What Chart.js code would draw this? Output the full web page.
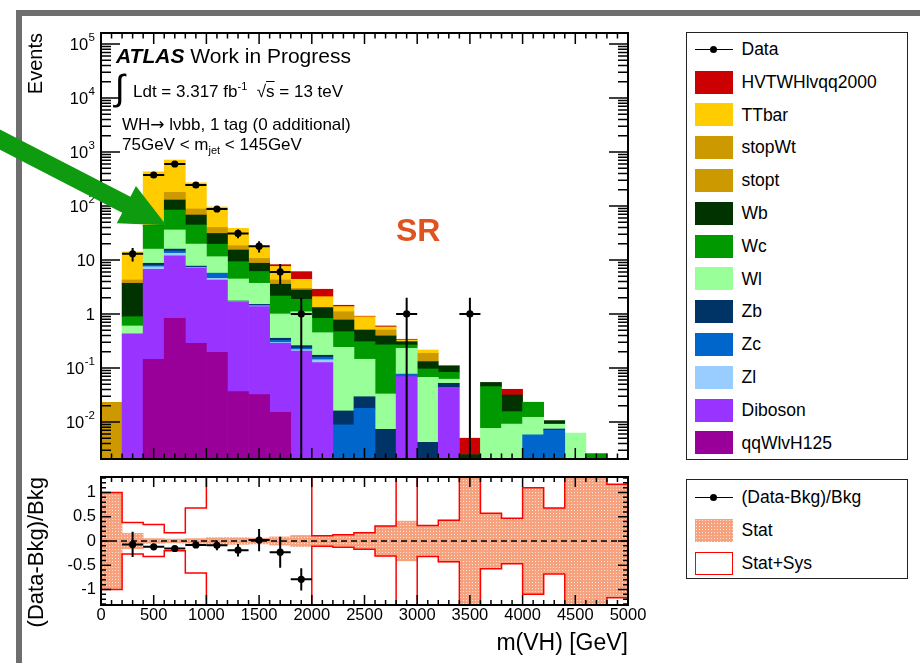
<!DOCTYPE html>
<html>
<head>
<meta charset="utf-8">
<title>m(VH) SR</title>
<script src="https://cdn.jsdelivr.net/npm/chart.js@4.4.1/dist/chart.umd.min.js"></script>
<style>
  body { margin:0; width:920px; height:663px; overflow:hidden; position:relative; background:#fff;
         font-family:"Liberation Sans", Arial, Helvetica, sans-serif; color:#000; }
  #frame { position:absolute; left:16px; top:10px; width:1000px; height:1000px; border:6px solid #6e6e6e; }
  canvas.plot { position:absolute; left:0; }
  #upper { top:0; }
  #lower { top:470px; }
  .txt { position:absolute; white-space:nowrap; line-height:1; }
  .vtitle { position:absolute; white-space:nowrap; line-height:1; width:200px; text-align:right;
            transform:rotate(-90deg); transform-origin:0 0; font-size:20px; }
  .legend { position:absolute; border:1.5px solid #222; box-sizing:border-box; background:#fff; }
  .row { position:relative; height:32.8px; }
  .sw { position:absolute; left:7.5px; top:4.9px; width:38px; height:23px; }
  .lab { position:absolute; left:54.5px; top:0; line-height:32.8px; font-size:17.5px; white-space:nowrap; }
  .mk::before { content:""; position:absolute; left:0; right:0; top:10.7px; height:1.6px; background:#000; }
  .mk::after { content:""; position:absolute; left:15.5px; top:8px; width:7px; height:7px; border-radius:50%; background:#000; }
  sup, sub { font-size:0.65em; line-height:0; }
  .arr { font-family:"DejaVu Sans", sans-serif; }
</style>
</head>
<body>
<div id="frame"></div>
<canvas id="upper" class="plot" width="660" height="470"></canvas>
<canvas id="lower" class="plot" width="660" height="193"></canvas>

<div class="txt" style="left:116px;top:45px;font-size:21px"><b><i>ATLAS</i></b> Work in Progress</div>
<div class="txt" style="left:115px;top:70px;font-size:36px">&#8747;</div>
<div class="txt" style="left:133px;top:83px;font-size:17px">Ldt = 3.317 fb<sup>-1</sup>&nbsp;&nbsp;&radic;<span style="text-decoration:overline">s</span> = 13 teV</div>
<div class="txt" style="left:122px;top:116px;font-size:17px">WH<span class="arr">&rarr;</span> l&nu;bb, 1 tag (0 additional)</div>
<div class="txt" style="left:122px;top:136px;font-size:17px">75GeV &lt; m<sub>jet</sub> &lt; 145GeV</div>
<div class="txt" style="left:396px;top:214px;font-size:32px;font-weight:bold;color:#e2521f">SR</div>

<div class="vtitle" style="left:25px;top:233px">Events</div>
<div class="vtitle" style="left:25px;top:677px;font-size:22px">(Data-Bkg)/Bkg</div>
<div class="txt" style="right:292px;top:631px;font-size:23px">m(VH) [GeV]</div>

<div id="legMain" class="legend" style="left:686px;top:32px;width:222px;height:428px"></div>
<div id="legRatio" class="legend" style="left:686px;top:479px;width:222px;height:100px;padding-top:1.2px"></div>

<script>
// bin centres of m(VH), 200 GeV wide bins
const massBins = [100,300,500,700,900,1100,1300,1500,1700,1900,2100,2300,2500,2700,2900,
                  3100,3300,3500,3700,3900,4100,4300,4500,4700,4900];
const binWidth = 200;
const massTicks = [0,500,1000,1500,2000,2500,3000,3500,4000,4500,5000];

// stacked backgrounds, bottom of the stack first
const qqWlvH125 = [0,0,0.145,0.83,0.286,0.195,0.0365,0.032,0.015,0,0,0,0,0,0,0,0,0,0,0,0,0,0,0,0];
const diboson   = [0,0.43,6.55,11.07,6.71,4.07,1.65,1.338,0.271,0.206,0.126,0,0,0,0.069,0,0.0439,0,0,0,0,0,0,0,0];
const zl        = [0,0,0.8,1.4,0.2,0.3,0.01,0.04,0.01,0.013,0.016,0,0,0,0,0,0,0,0,0,0,0,0,0,0];
const zc        = [0,0,0.4,1.4,0.2,1.14,0.01,0.05,0.029,0.015,0.015,0.0088,0.0179,0,0.008,0,0,0,0,0,0.0058,0.0071,0,0,0];
const zb        = [0,0,0.8,1.2,0.3,0,0.03,0.05,0.03,0.025,0.015,0.0072,0.0114,0.0073,0,0.0042,0.0081,0,0,0,0,0.0003,0,0,0];
const wl        = [0,0.17,7.2,20.1,12.0,5.8,2.71,2.19,0.645,0.841,0.278,0.226,0.1157,0.0257,0.154,0.0628,0.01,0,0.0076,0.0091,0.0064,0.0017,0.0062,0,0];
const wc        = [0,0.29,26.7,48,24.8,8.1,4.85,2.4,1.15,0.77,0.38,0.228,0.162,0.234,0.036,0.029,0.021,0,0.0374,0.0064,0.011,0,0,0.0026,0];
const wb        = [0,2.81,0.5,45,23.5,11.4,6.0,2.6,1.4,0.91,0.48,0.304,0.198,0.125,0.04,0.035,0.027,0.0025,0.009,0.0161,0,0.0015,0,0,0];
const stopt     = [0,0.1,0.2,10,4,2,0.6,0.4,0.15,0.05,0,0.066,0,0.02,0,0,0,0,0,0,0,0,0,0,0];
const stopWt    = [0.023,0.46,0.8,40,16,7,2.5,1.6,0.56,0.15,0.02,0.26,0,0.093,0,0.056,0,0,0,0,0,0,0,0,0];
const ttbar     = [0,9.84,387,531,181,56,20.1,7.1,3.34,1.41,0.76,0.27,0.385,0.07,0.023,0.028,0,0,0,0,0,0,0,0,0];
const hvt2000   = [0,0,0,0,0,0,0,0,0.6,1.69,0.78,0.08,0.02,0.025,0.01,0,0,0.0025,0,0.0087,0,0,0,0,0];

const sampleNames  = ['qqWlvH125','Diboson','Zl','Zc','Zb','Wl','Wc','Wb','stopt','stopWt','TTbar','HVTWHlvqq2000'];
const sampleColors = ['#990099','#9933ff','#99ccff','#0066cc','#003366','#99ff99','#009900','#003300','#cc9900','#cc9900','#ffcc00','#cc0000'];
const sampleValues = [qqWlvH125, diboson, zl, zc, zb, wl, wc, wb, stopt, stopWt, ttbar, hvt2000];

// observed events and their errors
const eventCounts = [0,13,375,600,245,88,31,18,6,1,0,0,0,0,1,0,0,1,0,0,0,0,0,0,0];
const countErr    = [0,3.6,19.4,24.5,15.7,9.4,5.6,4.2,2.4,1,0,0,0,0,1,0,0,1,0,0,0,0,0,0,0];

// (Data-Bkg)/Bkg, null where out of range
const ratioValues = [null,-0.07,-0.12,-0.155,-0.08,-0.09,-0.19,0.02,-0.23,-0.79,null,null,null,null,null,null,null,null,null,null,null,null,null,null,null];
const ratioErr    = [null,0.26,0.05,0.04,0.06,0.10,0.13,0.23,0.32,0.23,null,null,null,null,null,null,null,null,null,null,null,null,null,null,null];

// uncertainty bands on the ratio
const statErr = [1.0,0.16,0.05,0.04,0.05,0.07,0.07,0.06,0.085,0.115,0.11,0.13,0.17,0.31,0.41,0.32,0.43,1.32,0.57,0.47,1.1,0.68,1.32,1.32,1.17];
const sysUp   = [1.0,0.38,0.34,0.17,0.68,1.32,1.32,1.32,1.32,1.32,0.11,0.13,0.17,0.31,1.32,0.32,0.43,1.32,0.57,0.47,1.1,0.68,1.32,1.32,1.17];
const sysDown = [1.0,0.27,0.32,0.20,0.66,1.32,1.32,1.32,1.32,1.32,0.11,0.13,0.17,0.31,1.32,0.32,0.43,1.32,0.57,0.47,1.1,0.68,1.32,1.32,1.17];

// log axis labels written as base + exponent
const yTickValues = [0.01,0.1,1,10,100,1000,10000,100000];
const yTickBase   = ['10','10','1','10','10','10','10','10'];
const yTickExp    = ['-2','-1','','','2','3','4','5'];
const ratioTickValues = [-1,-0.5,0,0.5,1];
const ratioTickLabels = ['-1','-0.5','0','0.5','1'];

const FONT = '"Liberation Sans", Arial, Helvetica, sans-serif';
const logFloor = 1e-6;

function dotFill() {
  const c = document.createElement('canvas');
  c.width = 3; c.height = 3;
  const g = c.getContext('2d');
  g.fillStyle = '#f6a27e';
  g.fillRect(0, 0, 3, 3);
  g.fillStyle = '#fde4d6';
  g.fillRect(1, 1, 1, 1);
  return g.createPattern(c, 'repeat');
}

// ROOT style frame: box plus inward ticks on all four sides
const rootAxes = {
  id: 'rootAxes',
  afterDraw(chart, args, o) {
    const {ctx, chartArea: a, scales: {x, y}} = chart;
    ctx.save();
    ctx.strokeStyle = '#000';
    ctx.lineWidth = 1.5;
    ctx.beginPath();
    for (let i = Math.ceil(x.min / o.xMinor); i * o.xMinor <= x.max; i++) {
      const v = i * o.xMinor;
      const len = v % o.xMajor === 0 ? o.xLen[0] : o.xLen[1];
      const px = x.getPixelForValue(v);
      ctx.moveTo(px, a.bottom); ctx.lineTo(px, a.bottom - len);
      ctx.moveTo(px, a.top); ctx.lineTo(px, a.top + len);
    }
    const marks = [];
    if (y.type === 'logarithmic') {
      for (let e = Math.floor(Math.log10(y.min)); e <= Math.ceil(Math.log10(y.max)); e++) {
        for (let m = 1; m < 10; m++) {
          const v = m * Math.pow(10, e);
          if (v >= y.min && v <= y.max) marks.push([v, m === 1]);
        }
      }
    } else {
      for (let i = Math.ceil(y.min / o.yMinor - 1e-9); i * o.yMinor <= y.max + 1e-9; i++) {
        const v = i * o.yMinor, r = v / o.yMajor;
        marks.push([v, Math.abs(r - Math.round(r)) < 1e-6]);
      }
    }
    marks.forEach(([v, major]) => {
      const py = y.getPixelForValue(v), len = major ? o.yLen[0] : o.yLen[1];
      ctx.moveTo(a.left, py); ctx.lineTo(a.left + len, py);
      ctx.moveTo(a.right, py); ctx.lineTo(a.right - len, py);
    });
    ctx.stroke();
    ctx.lineWidth = 2;
    ctx.strokeRect(a.left, a.top, a.right - a.left, a.bottom - a.top);
    ctx.restore();
  }
};

// 10^n labels for the log axis
const powerLabels = {
  id: 'powerLabels',
  afterDraw(chart) {
    const {ctx, chartArea: a, scales: {y}} = chart;
    if (y.type !== 'logarithmic') return;
    ctx.save();
    ctx.fillStyle = '#000';
    y.ticks.forEach((t, i) => {
      const py = y.getPixelForValue(t.value);
      let right = a.left - 6;
      if (yTickExp[i]) {
        ctx.font = '11.5px ' + FONT;
        ctx.textAlign = 'right';
        ctx.textBaseline = 'alphabetic';
        ctx.fillText(yTickExp[i], right, py - 3);
        right -= ctx.measureText(yTickExp[i]).width + 0.5;
      }
      ctx.font = '16.5px ' + FONT;
      ctx.textAlign = 'right';
      ctx.textBaseline = 'middle';
      ctx.fillText(yTickBase[i], right, py + 1.5);
    });
    ctx.restore();
  }
};

// x error = bin width, y error from the point's err field
const errorBars = {
  id: 'errorBars',
  afterDatasetsDraw(chart) {
    const {ctx, chartArea: a, scales: {x, y}} = chart;
    const isLog = y.type === 'logarithmic';
    ctx.save();
    ctx.beginPath();
    ctx.rect(a.left, a.top, a.right - a.left, a.bottom - a.top);
    ctx.clip();
    ctx.strokeStyle = '#000';
    ctx.lineWidth = 2;
    chart.data.datasets.forEach(ds => {
      if (!ds.errorBars) return;
      ds.data.forEach(p => {
        const px = x.getPixelForValue(p.x), py = y.getPixelForValue(p.y);
        const lo = isLog ? Math.max(p.y - p.err, 0) : p.y - p.err;
        ctx.beginPath();
        ctx.moveTo(x.getPixelForValue(p.x - binWidth / 2), py);
        ctx.lineTo(x.getPixelForValue(p.x + binWidth / 2), py);
        ctx.moveTo(px, y.getPixelForValue(lo));
        ctx.lineTo(px, y.getPixelForValue(p.y + p.err));
        ctx.stroke();
      });
    });
    ctx.restore();
  }
};

// the big green arrow, ends given in axis units
const pointer = {
  id: 'pointer',
  afterDraw(chart, args, o) {
    if (!o.to) return;
    const {ctx, scales: {x, y}} = chart;
    const x0 = x.getPixelForValue(o.from[0]), y0 = y.getPixelForValue(o.from[1]);
    const x1 = x.getPixelForValue(o.to[0]), y1 = y.getPixelForValue(o.to[1]);
    const len = Math.hypot(x1 - x0, y1 - y0);
    ctx.save();
    ctx.translate(x1, y1);
    ctx.rotate(Math.atan2(y1 - y0, x1 - x0));
    ctx.fillStyle = o.color;
    ctx.beginPath();
    ctx.moveTo(0, 0);
    ctx.lineTo(-o.head, o.wing);
    ctx.lineTo(-o.head, o.shaft / 2);
    ctx.lineTo(-len, o.shaft / 2);
    ctx.lineTo(-len, -o.shaft / 2);
    ctx.lineTo(-o.head, -o.shaft / 2);
    ctx.lineTo(-o.head, -o.wing);
    ctx.closePath();
    ctx.fill();
    ctx.restore();
  }
};

// build the stack as floating bars
const running = massBins.map(() => 0);
const stackSets = sampleValues.map((vals, k) => {
  const pts = [];
  vals.forEach((v, i) => {
    if (v > 0) pts.push({x: massBins[i], y: [running[i] > 0 ? running[i] : logFloor, running[i] + v]});
    running[i] += v;
  });
  return {type: 'bar', label: sampleNames[k], data: pts, backgroundColor: sampleColors[k], order: 2};
});

const dataPts = [];
eventCounts.forEach((n, i) => { if (n > 0) dataPts.push({x: massBins[i], y: n, err: countErr[i]}); });

const barDefaults = {grouped: false, barPercentage: 1, categoryPercentage: 1, borderWidth: 0};

new Chart(document.getElementById('upper'), {
  type: 'bar',
  data: {
    datasets: [
      {type: 'line', label: 'Data', data: dataPts, showLine: false, pointRadius: 3.6,
       pointBackgroundColor: '#000', pointBorderWidth: 0, errorBars: true, order: 1},
      ...stackSets
    ]
  },
  options: {
    responsive: false,
    animation: false,
    layout: {padding: {left: 0, right: 32, top: 33, bottom: 11}},
    datasets: {bar: barDefaults},
    plugins: {
      legend: {display: false},
      tooltip: {enabled: false},
      rootAxes: {xMajor: 500, xMinor: 100, xLen: [11, 5.5], yMajor: 10, yMinor: 1, yLen: [19, 10]},
      pointer: {from: [-1150, 2640], to: [620, 44], color: '#0f9b0f', shaft: 18, head: 45, wing: 21}
    },
    scales: {
      x: {type: 'linear', min: 0, max: 5000, offset: false, display: false,
          afterBuildTicks: s => { s.ticks = massTicks.map(v => ({value: v})); }},
      y: {type: 'logarithmic', min: 2.06e-3, max: 1.6e5,
          grid: {display: false, drawTicks: false}, border: {display: false},
          ticks: {display: false},
          afterBuildTicks: s => { s.ticks = yTickValues.map(v => ({value: v})); },
          afterFit: s => { s.width = 101; s.paddingTop = 0; s.paddingBottom = 0; }}
    }
  },
  plugins: [rootAxes, powerLabels, errorBars, pointer]
});

// ratio panel
const edges = massBins.map(c => c - binWidth / 2).concat(massBins[massBins.length - 1] + binWidth / 2);
const stepLine = vals => edges.map((e, i) => ({x: e, y: vals[Math.min(i, vals.length - 1)]}));
const ratioPts = [];
ratioValues.forEach((r, i) => { if (r !== null) ratioPts.push({x: massBins[i], y: r, err: ratioErr[i]}); });
const bandFill = dotFill();

new Chart(document.getElementById('lower'), {
  type: 'bar',
  data: {
    datasets: [
      {type: 'line', label: '(Data-Bkg)/Bkg', data: ratioPts, showLine: false, pointRadius: 3.6,
       pointBackgroundColor: '#000', pointBorderWidth: 0, errorBars: true, order: 1},
      {type: 'line', data: [{x: 0, y: 0}, {x: 5000, y: 0}], borderColor: '#000', borderWidth: 1.5,
       borderDash: [6, 4], pointRadius: 0, order: 2},
      {type: 'line', label: 'Stat+Sys', data: stepLine(sysUp), stepped: 'before', borderColor: '#ff0000',
       borderWidth: 1.5, pointRadius: 0, fill: false, order: 3},
      {type: 'line', data: stepLine(sysDown.map(v => -v)), stepped: 'before', borderColor: '#ff0000',
       borderWidth: 1.5, pointRadius: 0, fill: false, order: 3},
      {type: 'bar', label: 'Stat', data: massBins.map((c, i) => ({x: c, y: [-statErr[i], statErr[i]]})),
       backgroundColor: bandFill, order: 4}
    ]
  },
  options: {
    responsive: false,
    animation: false,
    layout: {padding: {left: 0, right: 32, top: 7, bottom: 0}},
    datasets: {bar: barDefaults},
    plugins: {
      legend: {display: false},
      tooltip: {enabled: false},
      rootAxes: {xMajor: 500, xMinor: 100, xLen: [10, 5], yMajor: 0.5, yMinor: 0.1, yLen: [10, 5]}
    },
    scales: {
      x: {type: 'linear', min: 0, max: 5000, offset: false,
          grid: {display: false, drawTicks: false}, border: {display: false},
          ticks: {color: '#000', font: {family: FONT, size: 16.5}, padding: 1, maxRotation: 0, autoSkip: false,
                  callback: v => String(v)},
          afterBuildTicks: s => { s.ticks = massTicks.map(v => ({value: v})); },
          afterFit: s => { s.height = 58; }},
      y: {type: 'linear', min: -1.32, max: 1.32,
          grid: {display: false, drawTicks: false}, border: {display: false},
          ticks: {color: '#000', font: {family: FONT, size: 16.5}, padding: 5,
                  callback: (v, i) => ratioTickLabels[i]},
          afterBuildTicks: s => { s.ticks = ratioTickValues.map(v => ({value: v})); },
          afterFit: s => { s.width = 101; s.paddingTop = 0; s.paddingBottom = 0; }}
    }
  },
  plugins: [rootAxes, errorBars]
});

// legends
function legendRow(box, paint, text) {
  const row = document.createElement('div');
  row.className = 'row';
  const sw = document.createElement('div');
  sw.className = 'sw';
  paint(sw);
  const lab = document.createElement('span');
  lab.className = 'lab';
  lab.textContent = text;
  row.append(sw, lab);
  box.appendChild(row);
}

const legMain = document.getElementById('legMain');
legendRow(legMain, sw => sw.classList.add('mk'), 'Data');
for (let k = sampleNames.length - 1; k >= 0; k--) {
  legendRow(legMain, sw => { sw.style.background = sampleColors[k]; }, sampleNames[k]);
}

const legRatio = document.getElementById('legRatio');
legendRow(legRatio, sw => sw.classList.add('mk'), '(Data-Bkg)/Bkg');
legendRow(legRatio, sw => {
  const c = document.createElement('canvas');
  c.width = 38; c.height = 23;
  const g = c.getContext('2d');
  g.fillStyle = dotFill();
  g.fillRect(0, 0, 38, 23);
  sw.appendChild(c);
}, 'Stat');
legendRow(legRatio, sw => { sw.style.border = '1.5px solid #ff0000'; sw.style.boxSizing = 'border-box'; }, 'Stat+Sys');
</script>
</body>
</html>
